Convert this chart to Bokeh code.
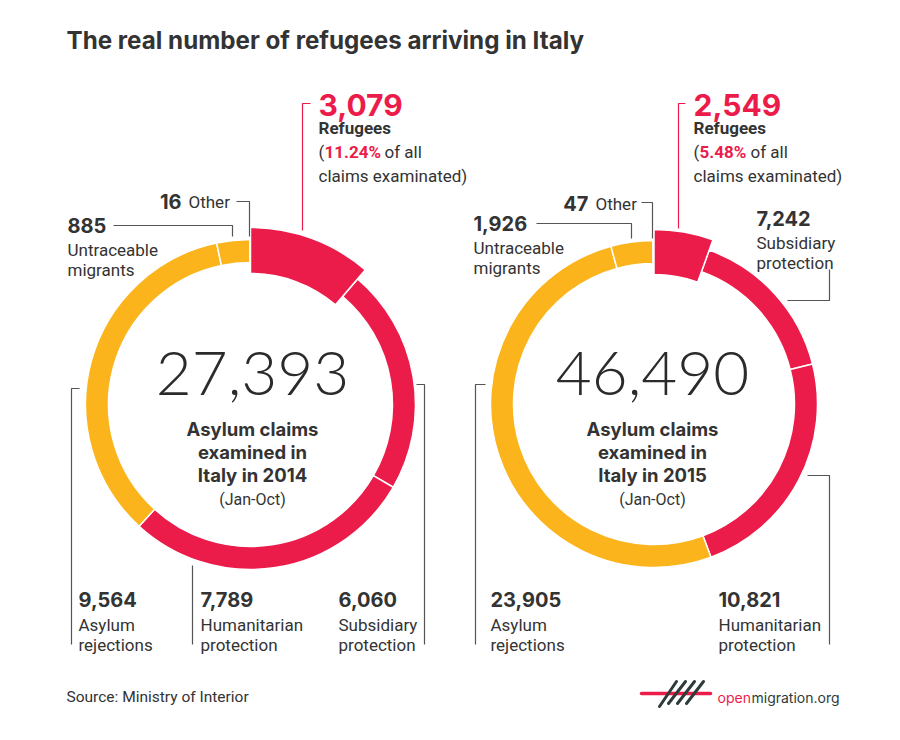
import numpy as np
from bokeh.plotting import figure
from bokeh.models import Range1d
from bokeh.core.properties import value
from bokeh.embed import file_html
from bokeh.resources import INLINE

# ---------------- data ----------------
categories = ["Refugees", "Subsidiary protection", "Humanitarian protection",
              "Asylum rejections", "Untraceable migrants", "Other"]
values_2014 = [3079, 6060, 7789, 9564, 885, 16]
values_2015 = [2549, 7242, 10821, 23905, 1926, 47]
years = ["2014", "2015"]
period = "(Jan-Oct)"
title = "The real number of refugees arriving in Italy"
source = "Source: Ministry of Interior"

RED = "#EC1C4A"
YEL = "#FBB41B"
DARK = "#333333"
LINE = "#555555"
seg_colors = [RED, RED, RED, YEL, YEL, YEL]

TITLE_FONT = value("Inter")
LABEL_FONT = value("Roboto")
LIGHT_FONT = value("'Lato Light', Lato")

p = figure(width=884, height=724, output_backend="svg", toolbar_location=None,
           x_range=Range1d(0, 884), y_range=Range1d(-732, -8),
           x_axis_location=None, y_axis_location=None, min_border=0)
p.grid.visible = False
p.outline_line_color = None
p.background_fill_color = "white"
p.border_fill_color = "white"


def T(x, y, s, size, color=DARK, font=LABEL_FONT, style="normal", align="left"):
    p.text(x=[x], y=[-y], text=[s], text_font=font, text_font_size=f"{size}px",
           text_font_style=style, text_color=color, text_align=align,
           text_baseline="alphabetic")


def L(pts, color=LINE, w=1.2):
    xs = [a for a, b in pts]
    ys = [-b for a, b in pts]
    p.line(xs, ys, line_color=color, line_width=w)


def donut(cx, cy, vals, r_in, r_out, r_in_hi, r_out_hi):
    v = np.array(vals, dtype=float)
    cum = np.concatenate([[0], np.cumsum(v)]) / v.sum()
    start = np.pi / 2 - 2 * np.pi * cum[:-1]
    end = np.pi / 2 - 2 * np.pi * cum[1:]
    inner = [r_in_hi] + [r_in] * (len(v) - 1)
    outer = [r_out_hi] + [r_out] * (len(v) - 1)
    order = list(range(1, len(v))) + [0]
    for i in order:
        p.annular_wedge(x=[cx], y=[-cy], inner_radius=[inner[i]], outer_radius=[outer[i]],
                        start_angle=[start[i]], end_angle=[end[i]], direction="clock",
                        fill_color=seg_colors[i], line_color="white", line_width=1.5)


def fmt(v):
    return f"{v:,}"


LS = 17  # label size

# title
T(66, 48, title, 24.2, font=TITLE_FONT, style="bold")

# ---------------- 2014 ----------------
vals = values_2014
donut(250, 412, vals, 142, 165, 131, 177)
tot = sum(vals)
pct = f"{100 * vals[0] / tot:.2f}%"
T(252, 381, fmt(tot), 62, color="#2b2b2b", font=LIGHT_FONT, align="center")
T(252, 436, "Asylum claims", 18.5, font=TITLE_FONT, style="bold", align="center")
T(252, 459, "examined in", 18.5, font=TITLE_FONT, style="bold", align="center")
T(252, 482, f"Italy in {years[0]}", 18.5, font=TITLE_FONT, style="bold", align="center")
T(252, 507, period, 16, align="center")

# refugees
T(318, 112, fmt(vals[0]), 30, color=RED, font=TITLE_FONT, style="bold")
T(318, 135, "Refugees", LS, style="bold")
T(318, 159, "(", LS)
T(324, 159, pct, LS, color=RED, style="bold")
T(384, 159, "of all", LS)
T(318, 183, "claims examinated)", LS)
L([(310, 111), (302, 111), (302, 238)], color=RED)
# other
T(181, 209, fmt(vals[5]), 20, font=TITLE_FONT, style="bold", align="right")
T(188, 209, "Other", LS)
L([(236, 209), (249, 209), (249, 244)])
# untraceable
T(67, 233, fmt(vals[4]), 20, font=TITLE_FONT, style="bold")
T(67, 257, "Untraceable", LS)
T(67, 277, "migrants", LS)
L([(113, 233), (232, 233), (232, 244)])
# rejections
T(78, 607, fmt(vals[3]), 20, font=TITLE_FONT, style="bold")
T(78, 632, "Asylum", LS)
T(78, 652, "rejections", LS)
L([(79, 396), (71, 396), (71, 652)])
# humanitarian
T(200, 607, fmt(vals[2]), 20, font=TITLE_FONT, style="bold")
T(200, 632, "Humanitarian", LS)
T(200, 652, "protection", LS)
L([(192, 573), (192, 652)])
# subsidiary
T(338, 607, fmt(vals[1]), 20, font=TITLE_FONT, style="bold")
T(338, 632, "Subsidiary", LS)
T(338, 652, "protection", LS)
L([(416, 392), (424, 392), (424, 652)])

# ---------------- 2015 ----------------
vals = values_2015
donut(653.5, 411.5, vals, 140.5, 163.5, 129.5, 174.5)
tot = sum(vals)
pct = f"{100 * vals[0] / tot:.2f}%"
T(652, 381, fmt(tot), 62, color="#2b2b2b", font=LIGHT_FONT, align="center")
T(652, 436, "Asylum claims", 18.5, font=TITLE_FONT, style="bold", align="center")
T(652, 459, "examined in", 18.5, font=TITLE_FONT, style="bold", align="center")
T(652, 482, f"Italy in {years[1]}", 18.5, font=TITLE_FONT, style="bold", align="center")
T(652, 507, period, 16, align="center")

T(693, 112, fmt(vals[0]), 30, color=RED, font=TITLE_FONT, style="bold")
T(693, 135, "Refugees", LS, style="bold")
T(693, 159, "(", LS)
T(699, 159, pct, LS, color=RED, style="bold")
T(750, 159, "of all", LS)
T(693, 183, "claims examinated)", LS)
L([(685, 111), (678, 111), (678, 236)], color=RED)
# other
T(588, 211, fmt(vals[5]), 20, font=TITLE_FONT, style="bold", align="right")
T(595, 211, "Other", LS)
L([(641, 210), (652, 210), (652, 246)])
# untraceable
T(473, 231, fmt(vals[4]), 20, font=TITLE_FONT, style="bold")
T(473, 255, "Untraceable", LS)
T(473, 275, "migrants", LS)
L([(536, 231), (631, 231), (631, 246)])
# subsidiary
T(756, 226, fmt(vals[1]), 20, font=TITLE_FONT, style="bold")
T(756, 250, "Subsidiary", LS)
T(756, 270, "protection", LS)
L([(787, 308), (829, 308), (829, 277)])
# rejections
T(490, 607, fmt(vals[3]), 20, font=TITLE_FONT, style="bold")
T(490, 632, "Asylum", LS)
T(490, 652, "rejections", LS)
L([(485, 392), (475, 392), (475, 652)])
# humanitarian
T(718, 607, fmt(vals[2]), 20, font=TITLE_FONT, style="bold")
T(718, 632, "Humanitarian", LS)
T(718, 652, "protection", LS)
L([(807, 483), (829, 483), (829, 652)])

# ---------------- footer ----------------
T(66, 704, source, 15.5)
# logo
p.line([641, 710], [-701, -701], line_color=RED, line_width=3.5, line_cap="round")
p.segment(x0=[659, 668, 677, 686], y0=[-714, -711, -711, -711],
          x1=[676, 685, 694, 703], y1=[-689, -689, -689, -689],
          line_color="#2d3b3b", line_width=3, line_cap="round")
T(717, 705, "open", 14, color=RED, font=TITLE_FONT)
T(751, 705, "migration.org", 14, color="#2d3b3b", font=TITLE_FONT)

open("out.html", "w").write(file_html(p, INLINE))
